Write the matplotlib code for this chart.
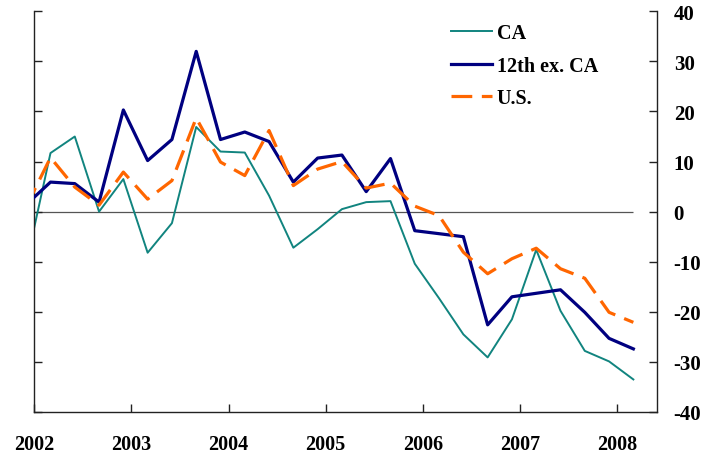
import matplotlib.pyplot as plt

# quarterly data, plotted at the last month of each quarter
quarters = ["2001Q4",
            "2002Q1", "2002Q2", "2002Q3", "2002Q4",
            "2003Q1", "2003Q2", "2003Q3", "2003Q4",
            "2004Q1", "2004Q2", "2004Q3", "2004Q4",
            "2005Q1", "2005Q2", "2005Q3", "2005Q4",
            "2006Q1", "2006Q2", "2006Q3", "2006Q4",
            "2007Q1", "2007Q2", "2007Q3", "2007Q4",
            "2008Q1"]

ca = [-10.5,
      11.7, 15.0, 0.0, 6.5,
      -8.2, -2.3, 16.9, 12.0,
      11.8, 3.2, -7.2, -3.5,
      0.5, 1.9, 2.1, -10.4,
      -17.3, -24.5, -29.1, -21.5,
      -7.6, -19.8, -27.8, -29.9,
      -33.5]

twelfth_ex_ca = [1.4,
                 5.9, 5.6, 1.9, 20.3,
                 10.2, 14.4, 32.0, 14.4,
                 15.9, 14.0, 5.9, 10.7,
                 11.3, 4.0, 10.6, -3.8,
                 -4.4, -5.0, -22.6, -17.0,
                 -16.3, -15.6, -20.1, -25.3,
                 -27.4]

us = [1.0,
      10.8, 4.9, 1.3, 7.9,
      2.5, 6.2, 18.7, 9.9,
      7.2, 16.2, 5.2, 8.5,
      10.0, 4.7, 5.7, 1.1,
      -0.8, -8.1, -12.4, -9.4,
      -7.3, -11.4, -13.3, -20.1,
      -22.1]

year_ticks = [2002, 2003, 2004, 2005, 2006, 2007, 2008]
value_ticks = [-40, -30, -20, -10, 0, 10, 20, 30, 40]

x = [int(q[:4]) + (3 * int(q[5]) - 1) / 12 for q in quarters]

plt.rcParams['font.family'] = ['Liberation Serif', 'DejaVu Serif']

fig = plt.figure(figsize=(7.2, 4.56), dpi=100)
ax = fig.add_axes([34.3 / 720, 43 / 456, 622.7 / 720, 400.7 / 456])

ax.hlines(0, x[0], x[-1], color="#555555", linewidth=0.9, zorder=1)
ax.plot(x, ca, color="#11847f", linewidth=1.4, label="CA", zorder=2)
ax.plot(x, twelfth_ex_ca, color="#000080", linewidth=2.3, label="12th ex. CA", zorder=3)
ax.plot(x, us, color="#ff6600", linewidth=2.3, dashes=(6.5, 3), label="U.S.", zorder=4)

ax.set_xlim(2002, 2008.41)
ax.set_ylim(-40, 40)

ax.spines['top'].set_visible(False)
for s in ['left', 'right', 'bottom']:
    ax.spines[s].set_color("#222222")
    ax.spines[s].set_linewidth(1.0)

ax.set_xticks(year_ticks)
ax.set_xticklabels([str(y) for y in year_ticks], fontsize=14.5, fontweight='bold')
ax.set_yticks(value_ticks)
ax.set_yticklabels([str(v) for v in value_ticks], fontsize=15, fontweight='bold')

ax.tick_params(axis='x', direction='in', length=6, width=1, pad=16, colors="#222222", labelcolor="black")
ax.tick_params(axis='y', direction='in', length=6, width=1, left=True, right=True,
               labelleft=False, labelright=True, pad=12, colors="#222222", labelcolor="black")

ax.legend(loc="upper left", bbox_to_anchor=(0.657, 0.99), frameon=False,
          prop={'size': 14.5, 'weight': 'bold'}, handlelength=2.0, handletextpad=0.25,
          labelspacing=0.62, borderaxespad=0)

plt.savefig("out.png", dpi=100)
